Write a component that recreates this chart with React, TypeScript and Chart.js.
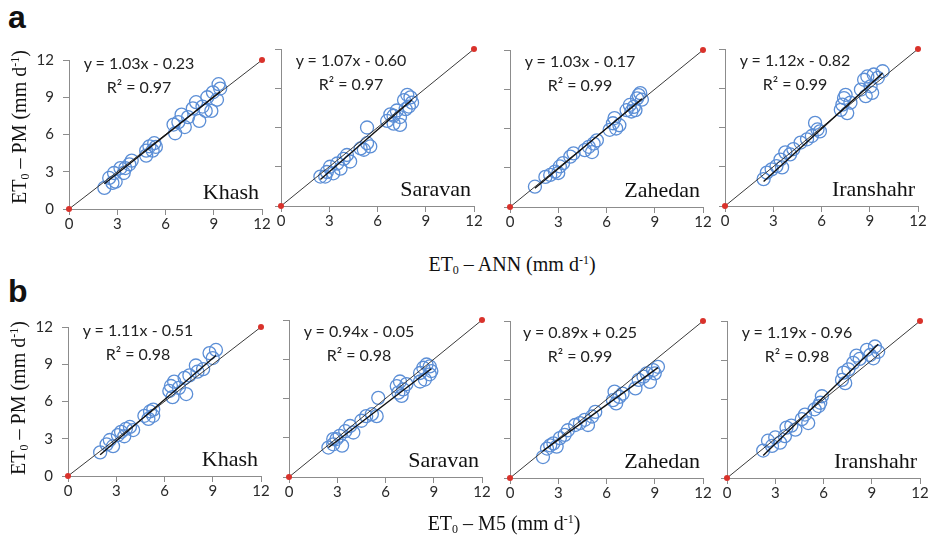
import React, { useEffect, useRef } from "react";
import { Chart, registerables } from "chart.js";

Chart.register(...registerables);

// ---------- data ----------
const stations = ["Khash", "Saravan", "Zahedan", "Iranshahr"];
const tickValues = [0, 3, 6, 9, 12];

// Row a: ET0-ANN (x) vs ET0-PM (y)
const khashAnnX = [2.2, 2.5, 2.8, 3.2, 3.75, 3.5, 2.9, 4.8, 5.0, 5.3, 5.2, 4.8, 6.5, 6.6, 7.0, 7.2, 8.1, 7.9, 7.7, 8.5, 8.85, 8.95, 9.2, 9.3, 9.4, 8.6, 8.3, 2.7, 3.4, 3.9, 5.4, 6.8, 7.4];
const khashAnnY = [1.7, 2.5, 2.9, 3.3, 3.6, 3.3, 2.2, 4.7, 5.05, 5.3, 4.7, 4.3, 6.8, 6.1, 7.6, 6.6, 7.1, 8.6, 8.1, 7.9, 7.9, 9.4, 8.8, 10.05, 9.7, 9.0, 8.25, 2.1, 2.9, 3.9, 5.0, 7.0, 7.4];
const saravanAnnX = [2.45, 2.85, 3.05, 3.5, 3.9, 4.3, 3.7, 3.25, 2.75, 4.1, 4.95, 5.35, 5.55, 5.35, 5.15, 6.6, 6.8, 7.0, 7.2, 7.4, 7.65, 7.85, 8.05, 7.95, 8.15, 7.75, 7.4, 7.0];
const saravanAnnY = [2.25, 2.6, 3.0, 3.25, 3.6, 3.4, 2.85, 2.5, 2.25, 3.9, 4.4, 4.8, 4.55, 6.0, 4.3, 6.5, 7.0, 6.3, 7.3, 6.8, 8.1, 8.5, 8.3, 7.6, 7.9, 7.4, 6.2, 6.9];
const zahedanAnnX = [1.55, 2.2, 2.5, 2.8, 3.1, 3.3, 3.0, 3.75, 3.95, 4.65, 4.9, 5.2, 5.1, 5.4, 6.2, 6.4, 6.5, 6.6, 6.8, 7.25, 7.45, 7.55, 7.8, 7.9, 8.1, 8.2, 8.0, 7.7];
const zahedanAnnY = [1.55, 2.3, 2.45, 2.7, 3.1, 3.35, 2.6, 3.85, 4.1, 4.35, 4.6, 4.85, 4.2, 5.1, 5.9, 6.4, 6.8, 6.0, 6.25, 7.4, 7.8, 7.3, 7.4, 8.3, 8.7, 8.2, 8.55, 7.65];
const iranshahrAnnX = [2.4, 2.6, 2.9, 3.2, 3.55, 3.45, 3.75, 4.05, 4.25, 4.7, 5.1, 5.4, 5.75, 5.6, 5.9, 7.2, 7.3, 7.4, 7.5, 7.6, 7.8, 8.45, 8.65, 8.85, 9.05, 9.25, 9.15, 9.5, 9.8, 8.75];
const iranshahrAnnY = [2.05, 2.55, 2.8, 3.05, 2.95, 3.55, 4.1, 3.95, 4.35, 4.85, 5.1, 5.35, 5.85, 6.35, 5.7, 7.35, 7.75, 8.25, 8.5, 7.1, 7.9, 8.9, 9.65, 9.9, 9.15, 10.05, 8.65, 9.8, 10.3, 8.4];

// Row b: ET0-M5 (x) vs ET0-PM (y)
const khashM5X = [2.0, 2.4, 2.6, 2.8, 3.1, 3.3, 3.6, 3.85, 3.5, 4.05, 4.75, 5.1, 5.3, 5.0, 5.3, 6.3, 6.4, 6.6, 6.5, 6.9, 7.25, 7.35, 7.55, 7.95, 8.05, 8.4, 8.8, 9.2, 9.0];
const khashM5Y = [1.9, 2.55, 2.9, 2.4, 3.3, 3.55, 3.8, 3.95, 3.2, 3.7, 4.85, 5.2, 5.35, 4.6, 4.85, 6.85, 7.25, 7.6, 6.35, 7.1, 7.9, 6.6, 8.1, 8.9, 8.4, 8.6, 9.9, 10.15, 9.5];
const saravanM5X = [2.45, 2.75, 2.95, 3.15, 3.5, 3.8, 4.0, 3.3, 2.75, 4.5, 4.8, 5.15, 5.45, 5.55, 6.7, 6.8, 6.9, 7.1, 7.3, 7.0, 8.15, 8.35, 8.55, 8.75, 8.75, 8.45, 8.85, 8.15];
const saravanM5Y = [2.25, 2.5, 2.9, 3.15, 3.5, 3.9, 3.4, 2.4, 2.9, 4.3, 4.65, 4.8, 4.65, 6.05, 6.95, 6.45, 7.3, 6.7, 7.1, 6.2, 7.95, 8.35, 8.6, 8.45, 7.85, 7.45, 8.1, 7.3];
const zahedanM5X = [2.05, 2.3, 2.5, 2.7, 2.9, 3.1, 3.4, 3.6, 4.05, 4.35, 4.65, 4.85, 5.1, 5.3, 6.4, 6.5, 6.6, 6.8, 7.0, 7.8, 8.0, 8.3, 8.5, 8.7, 8.9, 9.2, 9.0];
const zahedanM5Y = [1.6, 2.25, 2.5, 2.65, 2.4, 3.05, 3.3, 3.65, 4.05, 4.2, 4.45, 4.05, 4.7, 5.05, 5.95, 6.6, 5.7, 6.2, 6.45, 6.85, 7.5, 7.75, 8.0, 7.35, 8.25, 8.5, 8.0];
const iranshahrM5X = [2.25, 2.55, 2.8, 3.0, 3.3, 3.6, 3.7, 4.0, 4.25, 4.65, 4.85, 5.05, 5.45, 5.7, 5.9, 5.8, 7.15, 7.25, 7.35, 7.55, 7.85, 8.05, 8.25, 8.7, 8.9, 9.2, 9.4, 9.1];
const iranshahrM5Y = [2.1, 2.85, 2.45, 3.1, 2.7, 3.2, 3.85, 4.0, 3.7, 4.5, 4.85, 4.2, 5.25, 5.5, 6.25, 5.75, 7.5, 8.05, 7.25, 8.3, 8.8, 9.35, 9.1, 9.8, 9.4, 10.05, 9.65, 9.15];

// Regression fits shown in the panels
const annSlopes = [1.03, 1.07, 1.03, 1.12];
const annIntercepts = [-0.23, -0.6, -0.17, -0.82];
const annR2 = [0.97, 0.97, 0.99, 0.99];
const m5Slopes = [1.11, 0.94, 0.89, 1.19];
const m5Intercepts = [-0.51, -0.05, 0.25, -0.96];
const m5R2 = [0.98, 0.98, 0.99, 0.98];

// 1:1 reference line
const refLineX = [0, 12];

// ---------- layout ----------
const PW = 193;
const PH = 157;
const PAD_L = 44;
const PAD_T = 10;
const PAD_R = 14;
const PAD_B = 28;

const rowALeft = [69, 281, 510, 725];
const rowATop = [52, 49, 50, 49];
const rowBLeft = [68, 289, 510, 727];
const rowBTop = [319, 320, 321, 321];

const AXIS_COLOR = "#8c8c8c";
const TICK_FONT = "Lato, 'Open Sans', sans-serif";
const SERIF = "'Liberation Serif', 'DejaVu Serif', serif";

type PanelProps = {
  left: number;
  top: number;
  xs: number[];
  ys: number[];
  slope: number;
  intercept: number;
  r2: number;
  name: string;
  showY: boolean;
};

function fmtEq(m: number, b: number) {
  return `y = ${m.toFixed(2)}x ${b < 0 ? "-" : "+"} ${Math.abs(b).toFixed(2)}`;
}

function Panel({ left, top, xs, ys, slope, intercept, r2, name, showY }: PanelProps) {
  const ref = useRef<HTMLCanvasElement | null>(null);
  useEffect(() => {
    if (!ref.current) return;
    const pts = xs.map((x, i) => ({ x, y: ys[i] }));
    const xmin = Math.min(...xs);
    const xmax = Math.max(...xs);
    const chart = new Chart(ref.current, {
      type: "scatter",
      data: {
        datasets: [
          {
            data: [
              { x: xmin, y: slope * xmin + intercept },
              { x: xmax, y: slope * xmax + intercept },
            ],
            showLine: true,
            borderColor: "#111111",
            borderWidth: 1.4,
            pointRadius: 0,
            order: 0,
            clip: false,
          } as any,
          {
            data: refLineX.map((v) => ({ x: v, y: v })),
            showLine: true,
            borderColor: "#3a3a3a",
            borderWidth: 1,
            pointRadius: 3,
            pointBackgroundColor: "#d9322b",
            pointBorderColor: "#d9322b",
            pointBorderWidth: 0,
            order: 1,
            clip: false,
          } as any,
          {
            data: pts,
            pointRadius: 6.5,
            pointStyle: "circle",
            borderColor: "#5b8ed6",
            backgroundColor: "rgba(0,0,0,0)",
            pointBorderWidth: 1.3,
            borderWidth: 1.3,
            order: 2,
          } as any,
        ],
      },
      options: {
        responsive: false,
        maintainAspectRatio: false,
        devicePixelRatio: 1,
        animation: false,
        layout: { padding: { left: 0, top: PAD_T, right: PAD_R, bottom: 0 } },
        plugins: { legend: { display: false }, tooltip: { enabled: false } },
        scales: {
          x: {
            type: "linear",
            min: 0,
            max: 12,
            afterBuildTicks: (s: any) => {
              s.ticks = tickValues.map((v) => ({ value: v }));
            },
            ticks: {
              color: "#2a2a2a",
              font: { family: TICK_FONT, size: 15 },
              padding: 0,
              maxRotation: 0,
              autoSkip: false,
            },
            grid: { display: true, drawOnChartArea: false, drawTicks: true, tickLength: 6, color: AXIS_COLOR },
            border: { display: true, color: AXIS_COLOR, width: 1 },
            afterFit: (s: any) => {
              s.height = PAD_B;
            },
          },
          y: {
            type: "linear",
            min: 0,
            max: 12,
            afterBuildTicks: (s: any) => {
              s.ticks = tickValues.map((v) => ({ value: v }));
            },
            ticks: {
              display: showY,
              color: "#2a2a2a",
              font: { family: TICK_FONT, size: 15 },
              padding: 9,
              autoSkip: false,
            },
            grid: { display: true, drawOnChartArea: false, drawTicks: true, tickLength: 6, color: AXIS_COLOR },
            border: { display: true, color: AXIS_COLOR, width: 1 },
            afterFit: (s: any) => {
              s.width = PAD_L;
            },
          },
        },
      } as any,
    });
    return () => chart.destroy();
  }, []);

  const w = PAD_L + PW + PAD_R;
  const h = PAD_T + PH + PAD_B;
  return (
    <>
      <canvas
        ref={ref}
        width={w}
        height={h}
        style={{ position: "absolute", left: left - PAD_L, top: top - PAD_T, width: w, height: h }}
      />
      <div
        style={{
          position: "absolute",
          left: left + 70,
          top: top - 1,
          transform: "translateX(-50%)",
          textAlign: "center",
          fontFamily: TICK_FONT,
          fontSize: 16,
          lineHeight: "24px",
          color: "#222",
          whiteSpace: "nowrap",
        }}
      >
        <div>{fmtEq(slope, intercept)}</div>
        <div>{`R² = ${r2.toFixed(2)}`}</div>
      </div>
      <div
        style={{
          position: "absolute",
          left: left + 190,
          top: top + PH - 10 - 18.5,
          transform: "translateX(-100%)",
          fontFamily: SERIF,
          fontSize: 22,
          lineHeight: "22px",
          color: "#111",
          whiteSpace: "nowrap",
        }}
      >
        {name}
      </div>
    </>
  );
}

const subStyle: React.CSSProperties = { fontSize: "0.6em", verticalAlign: "-0.25em", lineHeight: 0 };
const supStyle: React.CSSProperties = { fontSize: "0.6em", verticalAlign: "0.6em", lineHeight: 0 };

function AxisTitle({ label, cx, cy, rotate }: { label: string; cx: number; cy: number; rotate?: boolean }) {
  return (
    <div
      style={{
        position: "absolute",
        left: cx,
        top: cy,
        transform: `translate(-50%, -50%)${rotate ? " rotate(-90deg)" : ""}`,
        fontFamily: SERIF,
        fontSize: 20,
        lineHeight: 1,
        color: "#111",
        whiteSpace: "nowrap",
      }}
    >
      ET<span style={subStyle}>0</span> – {label} (mm d<span style={supStyle}>-1</span>)
    </div>
  );
}

export default function App() {
  const annX = [khashAnnX, saravanAnnX, zahedanAnnX, iranshahrAnnX];
  const annY = [khashAnnY, saravanAnnY, zahedanAnnY, iranshahrAnnY];
  const m5X = [khashM5X, saravanM5X, zahedanM5X, iranshahrM5X];
  const m5Y = [khashM5Y, saravanM5Y, zahedanM5Y, iranshahrM5Y];
  return (
    <div
      style={{
        position: "fixed",
        left: 0,
        top: 0,
        width: 938,
        height: 537,
        background: "#fff",
        overflow: "hidden",
      }}
    >
      <div
        style={{
          position: "absolute",
          left: 8,
          top: 1,
          fontFamily: "'Liberation Sans', Arial, sans-serif",
          fontWeight: "bold",
          fontSize: 32,
          lineHeight: 1,
          color: "#111",
        }}
      >
        a
      </div>
      <div
        style={{
          position: "absolute",
          left: 8,
          top: 275,
          fontFamily: "'Liberation Sans', Arial, sans-serif",
          fontWeight: "bold",
          fontSize: 32,
          lineHeight: 1,
          color: "#111",
        }}
      >
        b
      </div>
      {stations.map((s, i) => (
        <Panel
          key={"a" + i}
          left={rowALeft[i]}
          top={rowATop[i]}
          xs={annX[i]}
          ys={annY[i]}
          slope={annSlopes[i]}
          intercept={annIntercepts[i]}
          r2={annR2[i]}
          name={s}
          showY={i === 0}
        />
      ))}
      {stations.map((s, i) => (
        <Panel
          key={"b" + i}
          left={rowBLeft[i]}
          top={rowBTop[i]}
          xs={m5X[i]}
          ys={m5Y[i]}
          slope={m5Slopes[i]}
          intercept={m5Intercepts[i]}
          r2={m5R2[i]}
          name={s}
          showY={i === 0}
        />
      ))}
      <AxisTitle label="PM" cx={19} cy={127} rotate />
      <AxisTitle label="PM" cx={18} cy={398} rotate />
      <AxisTitle label="ANN" cx={512} cy={264} />
      <AxisTitle label="M5" cx={504} cy={523} />
    </div>
  );
}
